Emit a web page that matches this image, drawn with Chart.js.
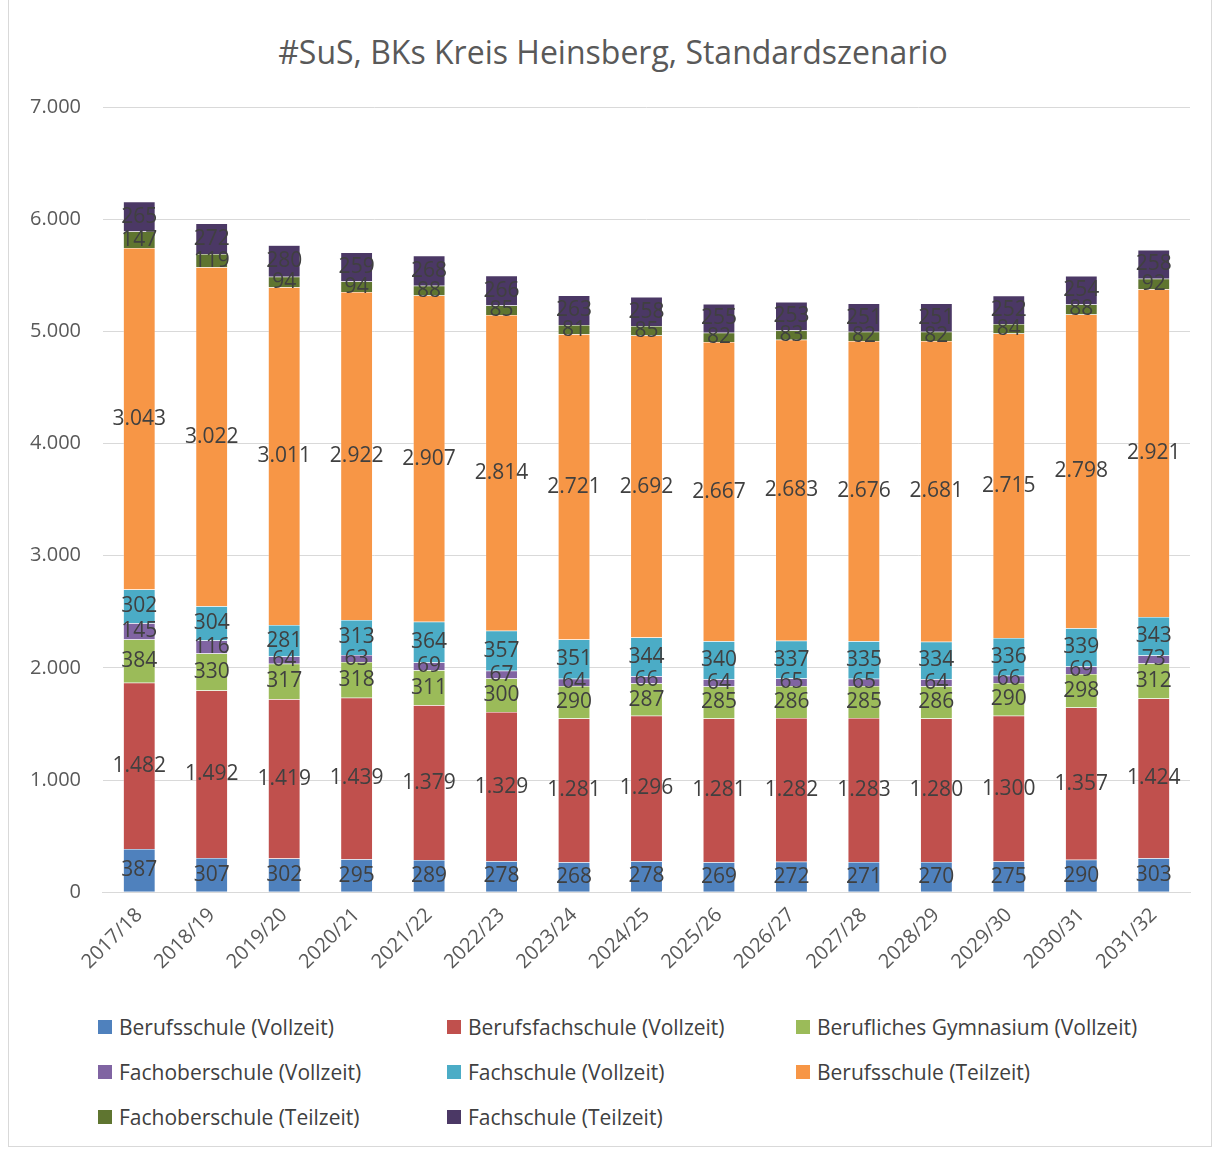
<!DOCTYPE html>
<html>
<head>
<meta charset="utf-8">
<script src="https://cdn.jsdelivr.net/npm/chart.js@4"></script>
<style>
  body { margin: 0; background: #fff; font-family: "Open Sans", sans-serif; }
  #frame { position: absolute; left: 8px; top: -2px; width: 1204px; height: 1149px; border: 1px solid #d9d9d9; box-sizing: border-box; }
  #title { position: absolute; left: 113px; width: 1000px; top: 30px; text-align: center; font-size: 32px; color: #595959; line-height: 44px; }
  #wrap { position: absolute; left: 8px; top: 0; width: 1205px; height: 982px; }
  #legend { position: absolute; left: 98px; top: 1013px; width: 1100px; font-size: 21px; color: #404040; }
  .item { position: absolute; white-space: nowrap; display: flex; align-items: center; }
  .box { width: 14px; height: 14px; margin-right: 7px; display: inline-block; }
</style>
</head>
<body>
<div id="frame"></div>
<div id="title">#SuS, BKs Kreis Heinsberg, Standardszenario</div>
<div id="wrap"><canvas id="chart"></canvas></div>
<div id="legend"></div>
<script>
const years = ["2017/18","2018/19","2019/20","2020/21","2021/22","2022/23","2023/24","2024/25","2025/26","2026/27","2027/28","2028/29","2029/30","2030/31","2031/32"];

const berufsschuleVZ = [387,307,302,295,289,278,268,278,269,272,271,270,275,290,303];
const berufsfachschuleVZ = [1482,1492,1419,1439,1379,1329,1281,1296,1281,1282,1283,1280,1300,1357,1424];
const gymnasiumVZ = [384,330,317,318,311,300,290,287,285,286,285,286,290,298,312];
const fachoberschuleVZ = [145,116,64,63,69,67,64,66,64,65,65,64,66,69,73];
const fachschuleVZ = [302,304,281,313,364,357,351,344,340,337,335,334,336,339,343];
const berufsschuleTZ = [3043,3022,3011,2922,2907,2814,2721,2692,2667,2683,2676,2681,2715,2798,2921];
const fachoberschuleTZ = [147,119,94,94,88,85,81,85,82,83,82,82,84,88,92];
const fachschuleTZ = [265,272,280,259,268,266,263,258,255,253,251,251,252,254,258];

const yTicks = [0,1000,2000,3000,4000,5000,6000,7000];

const fmt = v => v.toLocaleString("de-DE");

function ds(label, data, color) {
    return { label: label, data: data, backgroundColor: color, borderColor: "rgba(255,255,255,0.6)", borderWidth: 0.5,
             barPercentage: 0.88, categoryPercentage: 0.5 };
}

const datasets = [
    ds("Berufsschule (Vollzeit)", berufsschuleVZ, "#4f81bd"),
    ds("Berufsfachschule (Vollzeit)", berufsfachschuleVZ, "#c0504d"),
    ds("Berufliches Gymnasium (Vollzeit)", gymnasiumVZ, "#9bbb59"),
    ds("Fachoberschule (Vollzeit)", fachoberschuleVZ, "#8064a2"),
    ds("Fachschule (Vollzeit)", fachschuleVZ, "#4bacc6"),
    ds("Berufsschule (Teilzeit)", berufsschuleTZ, "#f79646"),
    ds("Fachoberschule (Teilzeit)", fachoberschuleTZ, "#5f7530"),
    ds("Fachschule (Teilzeit)", fachschuleTZ, "#4b3865")
];

// draw values in the middle of each segment
const valueLabels = {
    id: "valueLabels",
    afterDatasetsDraw(chart) {
        const ctx = chart.ctx;
        ctx.save();
        ctx.font = "21px 'Open Sans', sans-serif";
        ctx.fillStyle = "#404040";
        ctx.textAlign = "center";
        ctx.textBaseline = "middle";
        chart.data.datasets.forEach((d, i) => {
            chart.getDatasetMeta(i).data.forEach((bar, j) => {
                const mid = (bar.y + bar.base) / 2;
                ctx.fillText(fmt(d.data[j]), bar.x, mid);
            });
        });
        ctx.restore();
    }
};

new Chart(document.getElementById("chart"), {
    type: "bar",
    data: { labels: years, datasets: datasets },
    plugins: [valueLabels],
    options: {
        responsive: true,
        maintainAspectRatio: false,
        animation: false,
        layout: { padding: { left: 0, right: 23, top: 107, bottom: 5 } },
        plugins: {
            legend: { display: false },
            tooltip: { enabled: false }
        },
        scales: {
            x: {
                stacked: true,
                grid: { display: false },
                border: { color: "#d9d9d9" },
                ticks: { color: "#595959", font: { family: "'Open Sans', sans-serif", size: 20 }, maxRotation: 45, minRotation: 45 }
            },
            y: {
                stacked: true,
                min: 0, max: 7000,
                afterBuildTicks: axis => { axis.ticks = yTicks.map(v => ({ value: v })); },
                grid: { color: "#d9d9d9", drawTicks: false },
                border: { display: false },
                ticks: { color: "#595959", padding: 22, font: { family: "'Open Sans', sans-serif", size: 20 }, callback: v => fmt(v) }
            }
        }
    }
});

// legend in three columns, like the original
const legend = document.getElementById("legend");
datasets.forEach((d, i) => {
    const el = document.createElement("div");
    el.className = "item";
    el.style.left = (i % 3) * 349 + "px";
    el.style.top = Math.floor(i / 3) * 45 + "px";
    el.innerHTML = `<span class="box" style="background:${d.backgroundColor}"></span>${d.label}`;
    legend.appendChild(el);
});
</script>
</body>
</html>
